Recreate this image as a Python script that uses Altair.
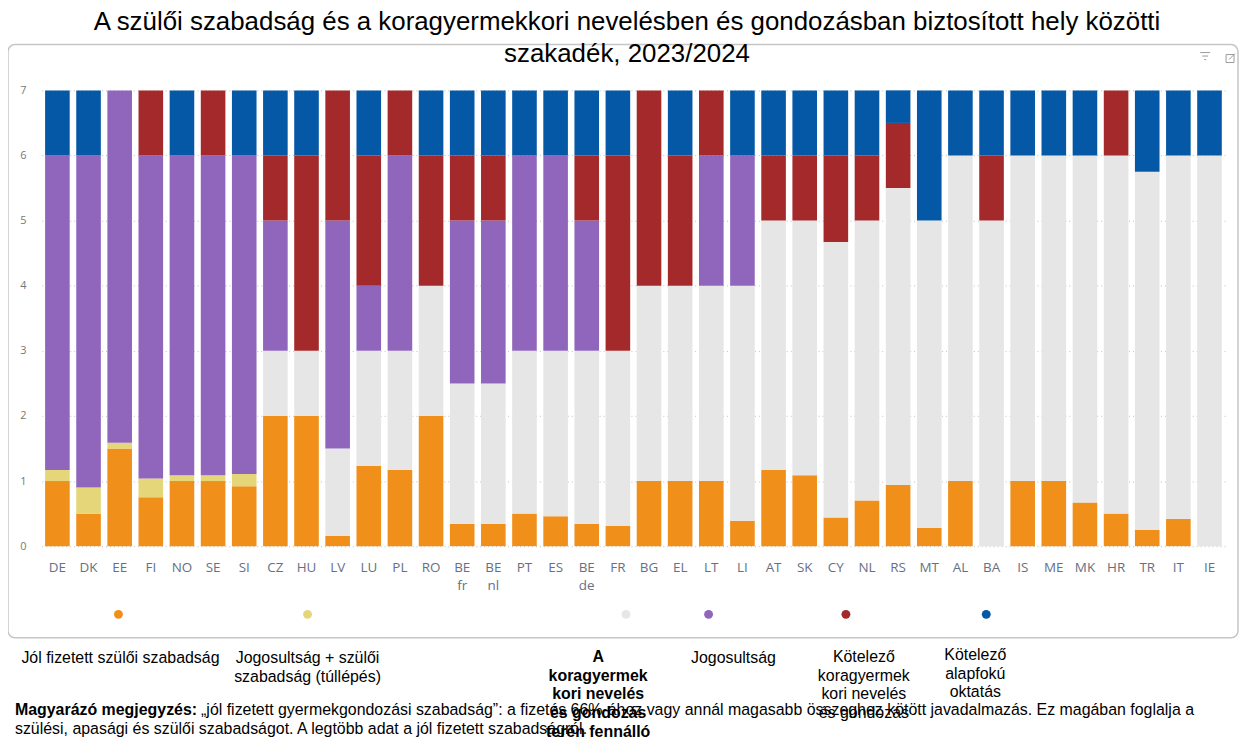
import altair as alt
import pandas as pd

countries = ["DE", "DK", "EE", "FI", "NO", "SE", "SI", "CZ", "HU", "LV", "LU", "PL",
             "RO", "BE fr", "BE nl", "PT", "ES", "BE de", "FR", "BG", "EL", "LT", "LI",
             "AT", "SK", "CY", "NL", "RS", "MT", "AL", "BA", "IS", "ME", "MK", "HR",
             "TR", "IT", "IE"]

series_names = [
    "Jól fizetett szülői szabadság",
    "Jogosultság + szülői szabadság (túllépés)",
    "A koragyermekkori nevelés és gondozás terén fennálló szakadék",
    "Jogosultság",
    "Kötelező koragyermekkori nevelés és gondozás",
    "Kötelező alapfokú oktatás",
]

well_paid = [1.0, 0.5, 1.5, 0.75, 1.0, 1.0, 0.92, 2, 2, 0.16, 1.23, 1.17,
             2, 0.34, 0.34, 0.5, 0.46, 0.34, 0.31, 1, 1, 1, 0.39,
             1.17, 1.09, 0.44, 0.7, 0.94, 0.28, 1, 0, 1, 1, 0.67, 0.5,
             0.25, 0.42, 0]
entitlement_leave = [0.17, 0.4, 0.09, 0.29, 0.09, 0.09, 0.19, 0, 0, 0, 0, 0,
                     0, 0, 0, 0, 0, 0, 0, 0, 0, 0, 0,
                     0, 0, 0, 0, 0, 0, 0, 0, 0, 0, 0, 0,
                     0, 0, 0]
ecec_gap = [0, 0, 0, 0, 0, 0, 0, 1, 1, 1.34, 1.77, 1.83,
            2, 2.16, 2.16, 2.5, 2.54, 2.66, 2.69, 3, 3, 3, 3.61,
            3.83, 3.91, 4.23, 4.3, 4.56, 4.72, 5, 5, 5, 5, 5.33, 5.5,
            5.5, 5.58, 6]
entitlement = [4.83, 5.1, 5.41, 4.96, 4.91, 4.91, 4.89, 2, 0, 3.5, 1, 3,
               0, 2.5, 2.5, 3, 3, 2, 0, 0, 0, 2, 2,
               0, 0, 0, 0, 0, 0, 0, 0, 0, 0, 0, 0,
               0, 0, 0]
compulsory_ecec = [0, 0, 0, 1, 0, 1, 0, 1, 3, 2, 2, 1,
                   2, 1, 1, 0, 0, 1, 3, 3, 2, 1, 0,
                   1, 1, 1.33, 1, 1, 0, 0, 1, 0, 0, 0, 1,
                   0, 0, 0]
primary = [1, 1, 0, 0, 1, 0, 1, 1, 1, 0, 1, 0,
           1, 1, 1, 1, 1, 1, 1, 0, 1, 0, 1,
           1, 1, 1, 1, 0.5, 2, 1, 1, 1, 1, 1, 0,
           1.25, 1, 1]

colors = ["#F18F1B", "#E5D779", "#E6E6E6", "#8F66BB", "#A4292B", "#0458A6"]

series_values = [well_paid, entitlement_leave, ecec_gap, entitlement, compulsory_ecec, primary]
rows = []
for k, (name, vals) in enumerate(zip(series_names, series_values)):
    for c, v in zip(countries, vals):
        if v > 0:
            rows.append({"country": c, "series": name, "k": k, "value": v})
df = pd.DataFrame(rows)

FONT = "Liberation Sans"

bars = alt.Chart(df).mark_bar().encode(
    x=alt.X("country:N", sort=countries,
            scale=alt.Scale(paddingInner=0.21, paddingOuter=0.105),
            axis=alt.Axis(title=None, labelAngle=0, domain=False, ticks=False,
                          labelExpr="split(datum.label, ' ')",
                          labelLineHeight=19, labelPadding=14,
                          labelColor="#667085", labelFontSize=13.5,
                          labelFont="Open Sans")),
    y=alt.Y("value:Q", stack="zero",
            scale=alt.Scale(domain=[0, 7], nice=False),
            axis=alt.Axis(title=None, values=[0, 1, 2, 3, 4, 5, 6, 7], grid=True,
                          gridDash=[1, 3], gridColor="#bdbdbd", domain=False,
                          ticks=False, labelColor="#777777", labelFontSize=11,
                          labelPadding=16, labelFont="Open Sans")),
    color=alt.Color("series:N", scale=alt.Scale(domain=series_names, range=colors),
                    legend=None),
    order=alt.Order("k:Q", sort="ascending"),
)

one = pd.DataFrame({"a": [0]})

frame = alt.Chart(one).mark_rect(filled=False, stroke="#c6c6c6", strokeWidth=1.5,
                                 cornerRadius=7).encode(
    x=alt.value(-34), x2=alt.value(1202), y=alt.value(-46), y2=alt.value(550))

# small header icons (filter / focus mode)
icon_color = "#9a9a9a"
icons = [
    alt.Chart(one).mark_rule(color=icon_color, strokeWidth=1).encode(
        x=alt.value(1164), x2=alt.value(1174), y=alt.value(-38)),
    alt.Chart(one).mark_rule(color=icon_color, strokeWidth=1).encode(
        x=alt.value(1166), x2=alt.value(1172), y=alt.value(-34.5)),
    alt.Chart(one).mark_rule(color=icon_color, strokeWidth=1).encode(
        x=alt.value(1168), x2=alt.value(1170), y=alt.value(-31)),
    alt.Chart(one).mark_rect(filled=False, stroke=icon_color, strokeWidth=1).encode(
        x=alt.value(1190), x2=alt.value(1198), y=alt.value(-36), y2=alt.value(-28)),
    alt.Chart(one).mark_rule(color=icon_color, strokeWidth=1).encode(
        x=alt.value(1193), x2=alt.value(1199), y=alt.value(-31), y2=alt.value(-37)),
]


def txt(s, x, y, size=16, bold=False, align="center", color="black", lh=19):
    return alt.Chart(pd.DataFrame({"t": [s]})).mark_text(
        align=align, baseline="alphabetic", fontSize=size,
        fontWeight="bold" if bold else "normal", font=FONT, color=color,
        lineBreak="\n", lineHeight=lh).encode(
        x=alt.value(x), y=alt.value(y), text="t:N")


title = txt("A szülői szabadság és a koragyermekkori nevelésben és gondozásban biztosított hely közötti\nszakadék, 2023/2024",
            588, -61, size=26, lh=32)

dot_x = [77, 267, 587, 670, 808, 949]
dots = [
    alt.Chart(one).mark_circle(size=80, opacity=1, color=col).encode(
        x=alt.value(x), y=alt.value(526.5))
    for x, col in zip(dot_x, colors)
]

legend_texts = [
    txt("Jól fizetett szülői szabadság", 79, 575),
    txt("Jogosultság + szülői\nszabadság (túllépés)", 267, 575),
    txt("A\nkoragyermek\nkori nevelés\nés gondozás\nterén fennálló\nszakadék", 559, 574, bold=True),
    txt("Jogosultság", 695, 575),
    txt("Kötelező\nkoragyermek\nkori nevelés\nés gondozás", 826, 574),
    txt("Kötelező\nalapfokú\noktatás", 938, 572),
]

note_bold = txt("Magyarázó megjegyzés:", -27, 628, bold=True, align="left")
note_1 = txt("„jól fizetett gyermekgondozási szabadság”: a fizetés 66%-ához vagy annál magasabb összeghez kötött javadalmazás. Ez magában foglalja a",
             160, 628, align="left")
note_2 = txt("szülési, apasági és szülői szabadságot. A legtöbb adat a jól fizetett szabadságról.",
             -27, 647, align="left")

chart = alt.layer(frame, *icons, bars, title, *dots, *legend_texts, note_bold, note_1, note_2).properties(
    width=1189, height=458,
    autosize=alt.AutoSizeParams(type="none"),
    padding={"left": 34, "top": 81, "right": 15, "bottom": 194},
).configure_view(stroke=None)

chart.save("out.html", embed_options={"renderer": "svg", "actions": False})
